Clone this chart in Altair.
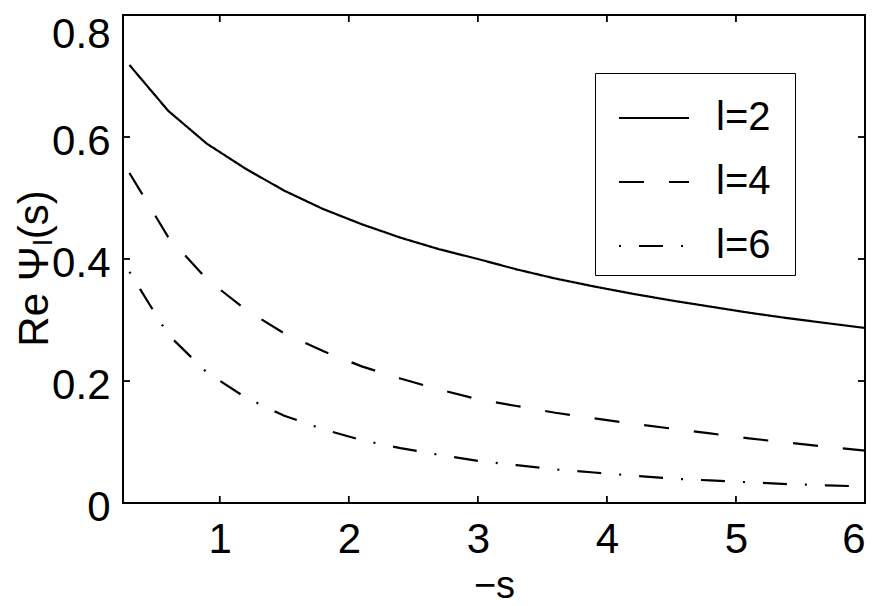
import altair as alt
import pandas as pd

# -s values (abscissa)
s_vals = [0.3, 0.6, 0.9, 1.2, 1.5, 1.8, 2.1, 2.4, 2.7, 3.0,
          3.3, 3.6, 3.9, 4.2, 4.5, 4.8, 5.1, 5.4, 5.7, 6.0]
# Re Psi_l(s) for l = 2, 4, 6
re_l2 = [0.718, 0.643, 0.589, 0.548, 0.512, 0.482, 0.457, 0.435, 0.416, 0.400,
         0.383, 0.368, 0.355, 0.343, 0.332, 0.322, 0.312, 0.303, 0.295, 0.287]
re_l4 = [0.541, 0.436, 0.367, 0.317, 0.278, 0.249, 0.224, 0.204, 0.186, 0.170,
         0.159, 0.148, 0.139, 0.130, 0.122, 0.114, 0.106, 0.099, 0.092, 0.086]
re_l6 = [0.379, 0.276, 0.214, 0.173, 0.143, 0.121, 0.103, 0.090, 0.079, 0.069,
         0.062, 0.055, 0.050, 0.045, 0.040, 0.037, 0.034, 0.031, 0.029, 0.027]
series_names = ["l=2", "l=4", "l=6"]
x_ticks = [1, 2, 3, 4, 5, 6]
y_ticks = [0, 0.2, 0.4, 0.6, 0.8]

rows = []
for name, vals in zip(series_names, [re_l2, re_l4, re_l6]):
    for s, v in zip(s_vals, vals):
        rows.append({"s": s, "v": v, "series": name})
df = pd.DataFrame(rows)

W, H = 742, 488
FONT = "Liberation Sans"
xscale = alt.Scale(domain=[0.25, 6], nice=False, zero=False)
yscale = alt.Scale(domain=[0, 0.8], nice=False, zero=False)

x_axis = alt.Axis(title="−s", values=x_ticks, labelPadding=16,
                  titleX=W / 2, titleY=94.5, titleBaseline="alphabetic",
                  titleAlign="center", titleFontSize=38)
y_axis = alt.Axis(title="Re Ψₗ(s)", values=y_ticks, format="~g",
                  labelPadding=13,
                  labelOffset={"condition": {"test": "datum.value >= 0.79", "value": 19},
                               "value": 4},
                  titleX=-76, titleY=253, titleAngle=-90,
                  titleBaseline="alphabetic", titleAlign="center")

lines = alt.Chart(df).mark_line(color="black", strokeWidth=2.2).encode(
    x=alt.X("s:Q", scale=xscale, axis=x_axis, title="−s"),
    y=alt.Y("v:Q", scale=yscale, axis=y_axis, title="Re Ψₗ(s)"),
    strokeDash=alt.StrokeDash(
        "series:N",
        scale=alt.Scale(domain=series_names,
                        range=[[1, 0], [25, 25], [2, 18, 24, 18]]),
        legend=alt.Legend(title="m", titleOrient="right", titleOpacity=0,
                          titleFontSize=16, titlePadding=1,
                          orient="none", legendX=472, legendY=58),
    ),
    order="s:Q",
)

xt = pd.DataFrame({"s": x_ticks})
yt = pd.DataFrame({"v": y_ticks})
tick_len = 7
ticks_bottom = alt.Chart(xt).mark_rule(color="black", strokeWidth=1.8).encode(
    x=alt.X("s:Q", scale=xscale, axis=x_axis, title="−s"),
    y=alt.value(H), y2=alt.value(H - tick_len))
ticks_top = alt.Chart(xt).mark_rule(color="black", strokeWidth=1.8).encode(
    x=alt.X("s:Q", scale=xscale, axis=x_axis, title="−s"),
    y=alt.value(0), y2=alt.value(tick_len))
ticks_left = alt.Chart(yt).mark_rule(color="black", strokeWidth=1.8).encode(
    y=alt.Y("v:Q", scale=yscale, axis=y_axis, title="Re Ψₗ(s)"),
    x=alt.value(0), x2=alt.value(tick_len))
ticks_right = alt.Chart(yt).mark_rule(color="black", strokeWidth=1.8).encode(
    y=alt.Y("v:Q", scale=yscale, axis=y_axis, title="Re Ψₗ(s)"),
    x=alt.value(W), x2=alt.value(W - tick_len))

chart = alt.layer(lines, ticks_bottom, ticks_top, ticks_left, ticks_right).properties(
    width=W, height=H,
    autosize=alt.AutoSizeParams(type="none"),
    padding={"left": 115, "top": 7, "right": 6, "bottom": 103},
    background="white",
).configure_view(
    stroke="black", strokeWidth=2
).configure_axis(
    domain=False, ticks=False, tickSize=0, grid=False,
    labelFont=FONT, labelFontSize=42, labelColor="black",
    titleFont=FONT, titleFontSize=42, titleFontWeight="normal", titleColor="black",
).configure_legend(
    strokeColor="black", strokeWidth=1, fillColor="white",
    padding=9, symbolOffset=14, rowPadding=8,
    symbolType="stroke", symbolSize=4900, symbolStrokeWidth=2,
    symbolStrokeColor="black", labelOffset=26,
    labelFont=FONT, labelFontSize=40, labelColor="black",
)

chart.save("out.html", embed_options={"renderer": "svg", "actions": False})
